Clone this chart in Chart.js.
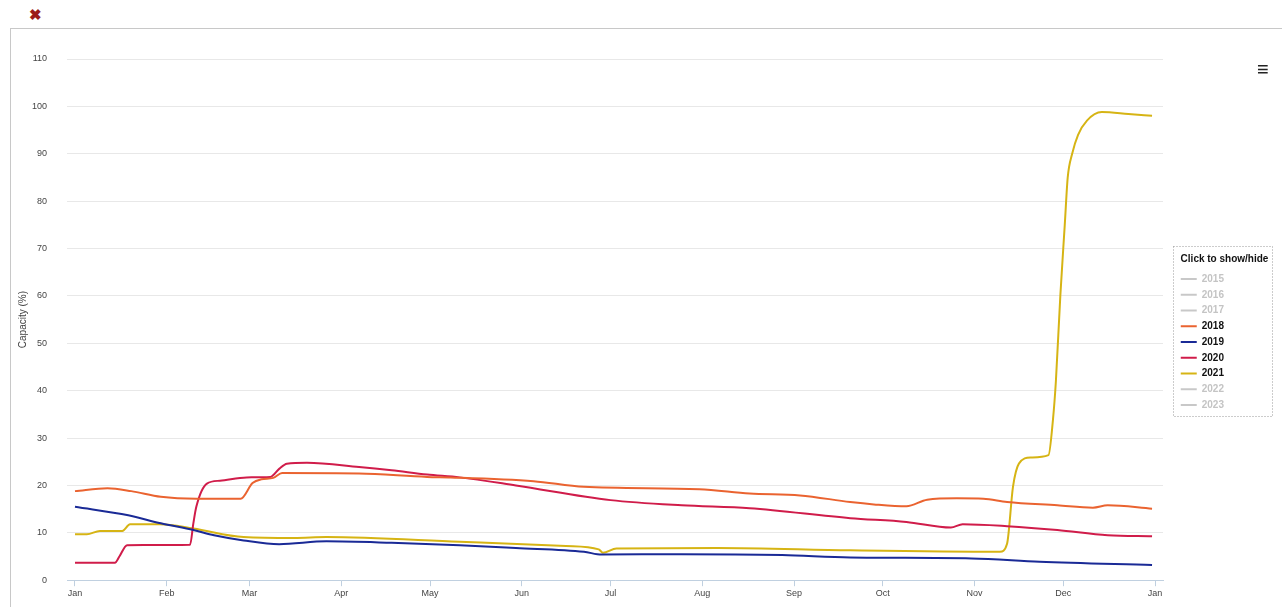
<!DOCTYPE html>
<html>
<head>
<meta charset="utf-8">
<script src="https://cdn.jsdelivr.net/npm/chart.js@4"></script>
<style>
  body { margin: 0; background: #fff; width: 1282px; height: 607px; overflow: hidden; position: relative; font-family: "Liberation Sans", Arial, sans-serif; }
  #closeBtn { position: absolute; left: 29px; top: 6px; color: #9b1a16; font-size: 15px; font-weight: bold; }
  #frame { position: absolute; left: 10px; top: 28px; width: 1272px; height: 579px; border-top: 1px solid #c8c8c8; border-left: 1px solid #c8c8c8; }
  #wrap { position: absolute; left: 11px; top: 29px; width: 1271px; height: 578px; }
  #menu { position: absolute; left: 1257px; top: 58px; font-size: 20px; font-weight: bold; color: #222; }
</style>
</head>
<body>
<div id="closeBtn">✖</div>
<div id="frame"></div>
<div id="wrap"><canvas id="myChart"></canvas></div>
<div id="menu">≡</div>
<script>
// month starts (day of year) and their labels
const monthDays = [0, 31, 59, 90, 120, 151, 181, 212, 243, 273, 304, 334, 365];
const monthLabels = ['Jan', 'Feb', 'Mar', 'Apr', 'May', 'Jun', 'Jul', 'Aug', 'Sep', 'Oct', 'Nov', 'Dec', 'Jan'];
const yTicks = [0, 10, 20, 30, 40, 50, 60, 70, 80, 90, 100, 110];

// 2018
const days2018 = [0, 11, 19, 29, 41, 56, 60, 63, 67, 70, 96, 119, 127, 155, 172, 211, 228, 245, 262, 270, 281, 288, 298, 307, 315, 332, 344, 349, 364];
const cap2018 = [18.8, 19.4, 18.8, 17.6, 17.2, 17.2, 20.5, 21.3, 21.6, 22.6, 22.5, 21.8, 21.7, 20.9, 19.7, 19.2, 18.3, 17.9, 16.5, 16.0, 15.6, 17.0, 17.3, 17.2, 16.5, 15.8, 15.3, 15.8, 15.1];

// 2019
const days2019 = [0, 18, 29, 40, 47, 57, 69, 85, 107, 130, 149, 172, 178, 205, 239, 262, 303, 326, 364];
const cap2019 = [15.5, 13.7, 12.0, 10.6, 9.5, 8.4, 7.6, 8.2, 7.9, 7.4, 6.8, 6.0, 5.4, 5.5, 5.3, 4.8, 4.6, 3.9, 3.2];

// 2020
const days2020 = [0, 13.5, 15, 17.6, 38.9, 40, 41, 44.6, 49, 58, 66, 69, 71.6, 78.4, 96, 107, 119, 130, 149, 181, 205, 228, 262, 281, 296, 300, 315, 332, 349, 364];
const cap2020 = [3.7, 3.7, 5.0, 7.4, 7.5, 12.0, 15.5, 20.4, 21.0, 21.7, 21.8, 23.5, 24.6, 24.8, 23.9, 23.2, 22.3, 21.7, 20.0, 16.9, 15.8, 15.2, 13.1, 12.3, 11.1, 11.8, 11.4, 10.6, 9.5, 9.3];

// 2021
const days2021 = [0, 4, 8.4, 16, 18.6, 28.7, 40, 57, 74, 85, 130, 166, 177, 178.4, 183, 217, 262, 312.6, 315, 317, 319, 323, 329, 330.5, 331.5, 333, 334.5, 335.5, 337, 339, 342, 347, 356, 364];
const cap2021 = [9.7, 9.7, 10.4, 10.4, 11.8, 11.8, 10.9, 9.1, 8.9, 9.1, 8.1, 7.2, 6.5, 5.8, 6.7, 6.8, 6.3, 6.0, 7.7, 19.7, 24.6, 25.9, 26.4, 33.8, 42, 60, 75, 85, 90, 94, 97, 98.8, 98.4, 98.0];

const years = ['2015', '2016', '2017', '2018', '2019', '2020', '2021', '2022', '2023'];
const yearColors = ['#c8c8c8', '#c8c8c8', '#c8c8c8', '#ea6330', '#1a2a96', '#d01c4a', '#d6b414', '#c8c8c8', '#c8c8c8'];

function pts(d, v) {
  return d.map((x, i) => ({ x: x, y: v[i] }));
}
const seriesData = {
  '2018': pts(days2018, cap2018),
  '2019': pts(days2019, cap2019),
  '2020': pts(days2020, cap2020),
  '2021': pts(days2021, cap2021)
};

const datasets = years.map((yr, i) => ({
  label: yr,
  data: seriesData[yr] || [],
  borderColor: yearColors[i],
  backgroundColor: yearColors[i],
  borderWidth: 2,
  pointRadius: 0,
  cubicInterpolationMode: 'monotone',
  pointStyle: 'line'
}));

// legend: fixed width, a gap before the plot, dotted box round it
const LEGEND_W = 111;
const LEGEND_GAP = 12;
const legendBox = {
  id: 'legendBox',
  beforeLayout(chart) {
    const lg = chart.legend;
    if (lg && !lg._fixedW) {
      const fit = lg.fit;
      lg.fit = function () {
        fit.call(this);
        if (!this.isHorizontal()) this.width = LEGEND_W;
      };
      lg._fixedW = true;
    }
  },
  afterLayout(chart) {
    const lg = chart.legend;
    lg.left += LEGEND_GAP;
    lg.width = lg.right - lg.left;
    lg.top += 4;
    lg.height = lg.bottom - lg.top;
  },
  afterDraw(chart) {
    const lg = chart.legend;
    const hb = lg.legendHitBoxes;
    if (!hb.length) return;
    const c = chart.ctx;
    const top = hb[0].top - 28;
    const bottom = hb[hb.length - 1].top + hb[hb.length - 1].height + 6;
    c.save();
    c.strokeStyle = '#999';
    c.lineWidth = 1;
    c.setLineDash([1, 2]);
    c.strokeRect(Math.round(lg.left) - 1.5, Math.round(top) + 0.5, Math.round(lg.width), Math.round(bottom - top));
    c.restore();
  }
};

const ctx = document.getElementById('myChart');
const myChart = new Chart(ctx, {
  type: 'line',
  data: { datasets: datasets },
  options: {
    responsive: true,
    maintainAspectRatio: false,
    animation: false,
    layout: { padding: { left: 0, right: 8, top: 30, bottom: 6 } },
    plugins: {
      tooltip: { enabled: false },
      legend: {
        position: 'right',
        title: {
          display: true,
          text: 'Click to show/hide',
          color: '#111',
          font: { family: '"Liberation Sans", Arial', size: 10, weight: 'bold' },
          padding: { top: 6, bottom: 2 }
        },
        labels: {
          usePointStyle: true,
          pointStyleWidth: 16,
          boxHeight: 8,
          padding: 5.75,
          font: { family: '"Liberation Sans", Arial', size: 10, weight: 'bold' },
          generateLabels(chart) {
            const items = Chart.defaults.plugins.legend.labels.generateLabels(chart);
            items.forEach(it => {
              const ds = chart.data.datasets[it.datasetIndex];
              it.fontColor = ds.data.length ? '#111' : '#c4c4c4';
            });
            return items;
          }
        }
      }
    },
    scales: {
      x: {
        type: 'linear',
        min: -2.7,
        max: 367.7,
        afterBuildTicks(axis) {
          axis.ticks = monthDays.map(v => ({ value: v }));
        },
        grid: { drawOnChartArea: false, drawTicks: true, tickLength: 6, color: '#c0d0e0' },
        border: { color: '#c0d0e0' },
        ticks: {
          color: '#444',
          font: { family: '"Liberation Sans", Arial', size: 9 },
          maxRotation: 0,
          autoSkip: false,
          padding: 2,
          callback: (v) => monthLabels[monthDays.indexOf(v)]
        }
      },
      y: {
        min: 0,
        max: 110,
        afterBuildTicks(axis) {
          axis.ticks = yTicks.map(v => ({ value: v }));
        },
        afterFit(scale) { scale.width = 56; },
        grid: { color: '#e8e8e8', drawTicks: false },
        border: { display: false },
        ticks: {
          color: '#444',
          font: { family: '"Liberation Sans", Arial', size: 9 },
          padding: 20
        },
        title: {
          display: true,
          text: 'Capacity (%)',
          color: '#444',
          font: { family: '"Liberation Sans", Arial', size: 10 },
          padding: { top: 6, bottom: 0 }
        }
      }
    }
  },
  plugins: [legendBox]
});
</script>
</body>
</html>
